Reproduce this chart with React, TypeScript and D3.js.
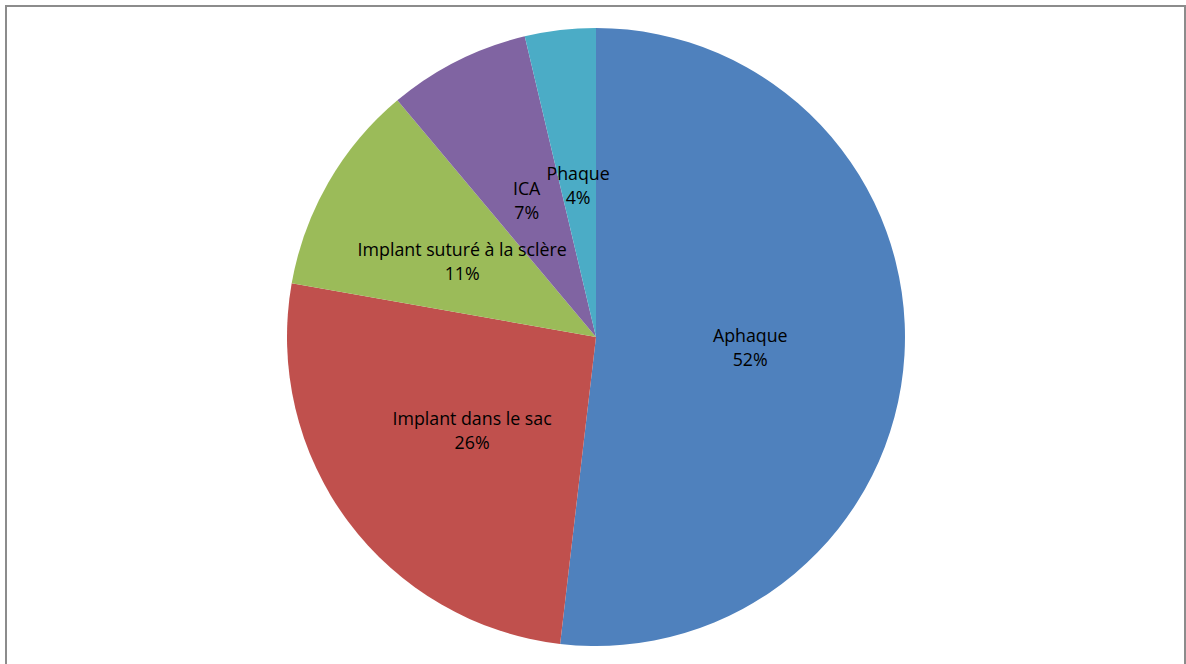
import React from "react";
import * as d3 from "d3";

const categories = ["Aphaque", "Implant dans le sac", "Implant suturé à la sclère", "ICA", "Phaque"];
const counts = [14, 7, 3, 2, 1];
const colors = ["#4F81BD", "#C0504D", "#9BBB59", "#8064A2", "#4BACC6"];

const W = 1186, H = 664;
const cx = 596, cy = 337, R = 309;

export default function App() {
  const total = d3.sum(counts);
  const pie = d3.pie<number>().sort(null).startAngle(0).endAngle(2 * Math.PI);
  const arcs = pie(counts);
  const arc = d3.arc<d3.PieArcDatum<number>>().innerRadius(0).outerRadius(R);
  const labelArc = d3.arc<d3.PieArcDatum<number>>().innerRadius(R * 0.5).outerRadius(R * 0.5);
  const fmt = d3.format(".0%");
  return (
    <svg width={W} height={H} style={{ position: "absolute", left: 0, top: 0 }}>
      <rect x={0} y={0} width={W} height={H} fill="#fff" />
      <rect x={6} y={6} width={1179} height={670} fill="none" stroke="#8c8c8c" strokeWidth={2} />
      <g transform={`translate(${cx},${cy})`}>
        {arcs.map((a, i) => (
          <path key={i} d={arc(a) || ""} fill={colors[i]} />
        ))}
        {arcs.map((a, i) => {
          const [x, y] = labelArc.centroid(a);
          return (
            <text key={"t" + i} x={x} y={y} textAnchor="middle" fontFamily="'Open Sans', sans-serif" fontSize={17.8} fill="#000">
              <tspan x={x} dy={-4}>{categories[i]}</tspan>
              <tspan x={x} dy={24}>{fmt(counts[i] / total)}</tspan>
            </text>
          );
        })}
      </g>
    </svg>
  );
}
